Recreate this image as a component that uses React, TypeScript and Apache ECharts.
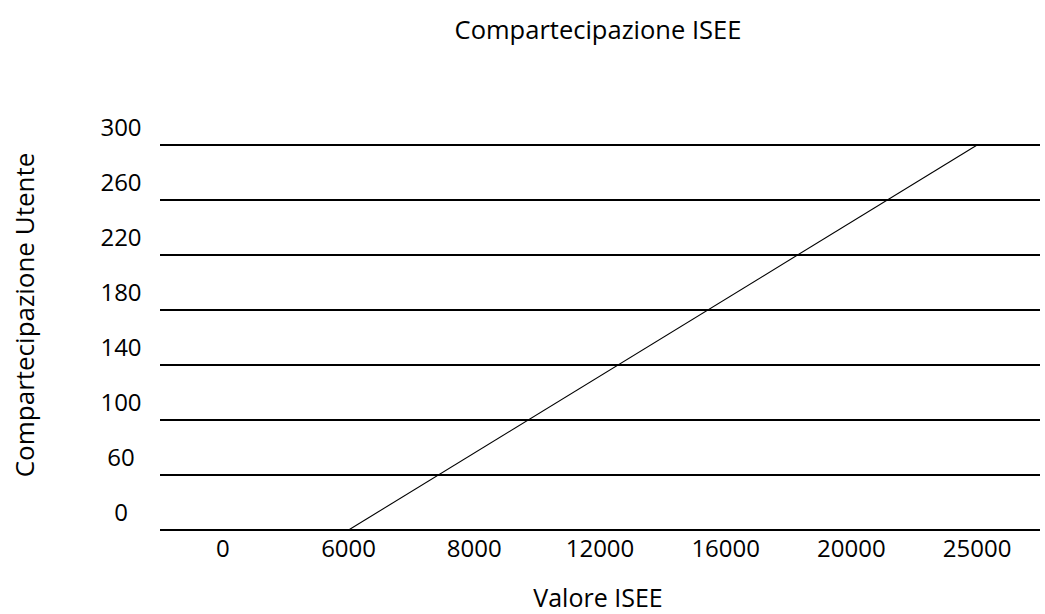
import React, { useEffect, useRef } from "react";
import * as echarts from "echarts";

const titleText = "Compartecipazione ISEE";
const xName = "Valore ISEE";
const yName = "Compartecipazione Utente";
const xCategories = ["0", "6000", "8000", "12000", "16000", "20000", "25000"];
const yCategories = ["0", "60", "100", "140", "180", "220", "260", "300"];
// line endpoints: [ISEE, compartecipazione]
const lineData: [string, string][] = [
  ["6000", "0"],
  ["25000", "300"],
];

const FONT = "'Open Sans', sans-serif";

export default function App() {
  const ref = useRef<HTMLDivElement>(null);
  useEffect(() => {
    document.body.style.margin = "0";
    const chart = echarts.init(ref.current!, null, { renderer: "svg" });
    chart.setOption({
      animation: false,
      backgroundColor: "#ffffff",
      textStyle: { fontFamily: FONT },
      grid: { left: 160, right: 5, top: 145, bottom: 84 },
      graphic: [
        {
          type: "text",
          x: 598,
          y: 29,
          style: {
            text: titleText,
            font: `25.5px ${FONT}`,
            fill: "#000",
            align: "center",
            verticalAlign: "middle",
          },
        },
        {
          type: "text",
          x: 598,
          y: 597,
          style: {
            text: xName,
            font: `25px ${FONT}`,
            fill: "#000",
            align: "center",
            verticalAlign: "middle",
          },
        },
        {
          type: "text",
          x: 24,
          y: 315,
          rotation: Math.PI / 2,
          style: {
            text: yName,
            font: `26px ${FONT}`,
            fill: "#000",
            align: "center",
            verticalAlign: "middle",
          },
        },
      ],
      xAxis: {
        type: "category",
        data: xCategories,
        boundaryGap: true,
        axisLine: { show: false },
        axisTick: { show: false },
        axisLabel: {
          color: "#000",
          fontSize: 24,
          fontFamily: FONT,
          margin: 5,
          interval: 0,
        },
        splitLine: { show: false },
      },
      yAxis: {
        type: "category",
        data: yCategories,
        boundaryGap: false,
        axisLine: { show: false },
        axisTick: { show: false },
        axisLabel: {
          color: "#000",
          fontSize: 24,
          fontFamily: FONT,
          align: "center",
          margin: 39,
          verticalAlign: "bottom",
          lineHeight: 26,
          padding: [0, 0, 6, 0],
          interval: 0,
        },
        splitLine: { show: true, lineStyle: { color: "#000", width: 2 } },
      },
      series: [
        {
          type: "line",
          data: lineData,
          symbol: "none",
          lineStyle: { color: "#000", width: 1.1 },
        },
      ],
    });
    return () => chart.dispose();
  }, []);
  return <div ref={ref} style={{ width: 1045, height: 614 }} />;
}
